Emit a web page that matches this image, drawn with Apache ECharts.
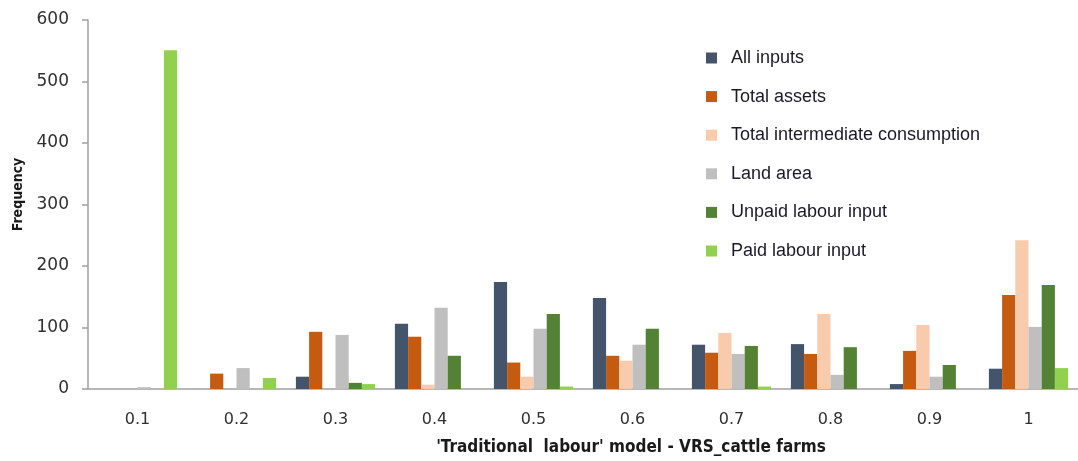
<!DOCTYPE html>
<html>
<head>
<meta charset="utf-8">
<script src="https://cdn.jsdelivr.net/npm/echarts@6/dist/echarts.min.js"></script>
<style>
  html, body { margin: 0; padding: 0; background: #fff; }
  #chart { width: 1078px; height: 461px; }
</style>
</head>
<body>
<div id="chart"></div>
<script>
// bins of the efficiency score
var categories = ["0.1", "0.2", "0.3", "0.4", "0.5", "0.6", "0.7", "0.8", "0.9", "1"];

// frequencies
var allInputs    = [0, 0, 20, 106, 174, 148, 72, 73, 8, 33];
var totalAssets  = [0, 25, 93, 85, 43, 54, 59, 57, 62, 153];
var totalIC      = [0, 0, 0, 7, 20, 46, 91, 122, 104, 242];
var landArea     = [3, 34, 88, 132, 98, 72, 57, 23, 20, 101];
var unpaidLabour = [0, 0, 10, 54, 122, 98, 70, 68, 39, 169];
var paidLabour   = [551, 18, 8, 0, 4, 0, 4, 0, 0, 34];

var seriesNames = [
  "All inputs",
  "Total assets",
  "Total intermediate consumption",
  "Land area",
  "Unpaid labour input",
  "Paid labour input"
];
var seriesColors = ["#44546A", "#C55A11", "#F8CBAD", "#BFBFBF", "#548235", "#92D050"];
var seriesData = [allInputs, totalAssets, totalIC, landArea, unpaidLabour, paidLabour];

var chart = echarts.init(document.getElementById("chart"));

var series = seriesNames.map(function (name, i) {
  return {
    name: name,
    type: "bar",
    data: seriesData[i],
    barGap: "0%",
    barCategoryGap: "20%",
    itemStyle: { color: seriesColors[i] }
  };
});

chart.setOption({
  animation: false,
  textStyle: { fontFamily: "Liberation Sans, Arial, sans-serif" },
  legend: {
    orient: "vertical",
    left: 701,
    top: 44,
    itemGap: 20.6,
    itemWidth: 11,
    itemHeight: 11,
    icon: "rect",
    data: seriesNames,
    textStyle: {
      color: "#1a1a2a",
      fontSize: 18,
      padding: [0, 0, 0, 9]
    }
  },
  grid: {
    left: 88,
    top: 20,
    width: 1000,
    height: 370
  },
  xAxis: {
    type: "category",
    data: categories,
    name: "'Traditional  labour' model - VRS_cattle farms",
    nameLocation: "middle",
    nameGap: 50,
    nameTextStyle: {
      color: "#1a1a1a",
      fontSize: 17,
      fontWeight: "bold",
      fontFamily: "DejaVu Sans Condensed, DejaVu Sans, sans-serif",
      padding: [0, 0, 0, 96]
    },
    axisLine: { lineStyle: { color: "#A0A0A0", width: 1.5 } },
    axisTick: { length: 7, lineStyle: { color: "#A0A0A0", width: 1.5 } },
    axisLabel: {
      color: "#303030",
      fontSize: 16,
      margin: 23,
      fontFamily: "DejaVu Sans, sans-serif"
    }
  },
  yAxis: {
    type: "value",
    min: 0,
    max: 600,
    interval: 100,
    name: "Frequency",
    nameLocation: "middle",
    nameGap: 63,
    nameTextStyle: {
      color: "#1a1a1a",
      fontSize: 14,
      fontWeight: "bold",
      fontFamily: "DejaVu Sans Condensed, DejaVu Sans, sans-serif",
      padding: [0, 0, 0, 20]
    },
    axisLine: { show: true, lineStyle: { color: "#A0A0A0", width: 1.5 } },
    axisTick: { show: true, length: 6, lineStyle: { color: "#A0A0A0", width: 1.5 } },
    axisLabel: {
      color: "#303030",
      fontSize: 17,
      margin: 19,
      fontFamily: "DejaVu Sans, sans-serif"
    },
    splitLine: { show: false }
  },
  series: series
});
</script>
</body>
</html>
